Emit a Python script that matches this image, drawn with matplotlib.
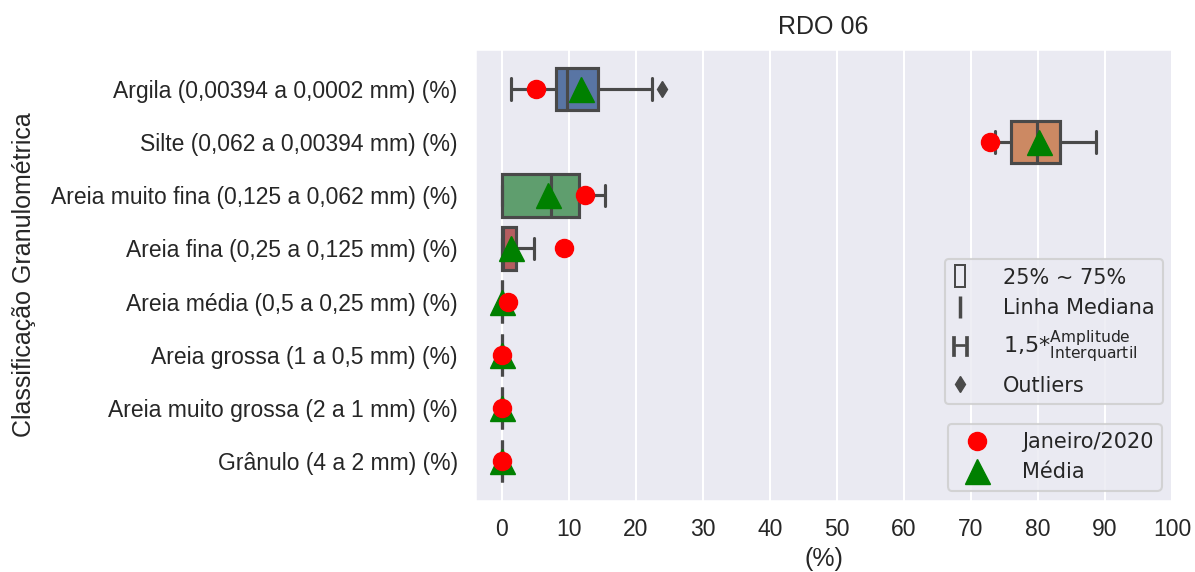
import matplotlib
matplotlib.use('Agg')
import matplotlib.pyplot as plt
from matplotlib.lines import Line2D
import seaborn as sns

# Classes granulométricas (eixo categórico)
categorias = [
    'Argila (0,00394 a 0,0002 mm) (%)',
    'Silte (0,062 a 0,00394 mm) (%)',
    'Areia muito fina (0,125 a 0,062 mm) (%)',
    'Areia fina (0,25 a 0,125 mm) (%)',
    'Areia média (0,5 a 0,25 mm) (%)',
    'Areia grossa (1 a 0,5 mm) (%)',
    'Areia muito grossa (2 a 1 mm) (%)',
    'Grânulo (4 a 2 mm) (%)',
]

# Estatísticas do histórico
lim_inf = [1.3, 73.6, 0.0, 0.0, 0.0, 0.0, 0.0, 0.0]
q1 = [8.1, 76.0, 0.0, 0.0, 0.0, 0.0, 0.0, 0.0]
mediana = [9.7, 79.9, 7.3, 0.2, 0.0, 0.0, 0.0, 0.0]
q3 = [14.3, 83.3, 11.5, 2.1, 0.0, 0.0, 0.0, 0.0]
lim_sup = [22.4, 88.7, 15.4, 4.8, 0.0, 0.0, 0.0, 0.0]
outliers = [[23.9], [], [], [], [], [], [], []]
media = [11.8, 80.2, 6.9, 1.4, 0.1, 0.0, 0.0, 0.0]

# Campanha atual
janeiro = [5.1, 72.8, 12.4, 9.3, 0.9, 0.0, 0.0, 0.0]


def main():
    sns.set_theme(style='darkgrid', context='talk')
    plt.rcParams['font.family'] = ['Liberation Sans', 'DejaVu Sans']

    cinza = '#494949'
    lw = 2.25
    cores = [sns.desaturate(c, 0.75) for c in sns.color_palette('deep', len(categorias))]
    posicoes = list(range(len(categorias)))

    fig = plt.figure(figsize=(11.95, 5.72), dpi=100)
    ax = fig.add_axes([0.3975, 0.1241, 0.5833, 0.7902])

    stats = []
    for i in posicoes:
        stats.append(dict(med=mediana[i], q1=q1[i], q3=q3[i],
                          whislo=lim_inf[i], whishi=lim_sup[i],
                          fliers=outliers[i]))

    bp = ax.bxp(stats, positions=posicoes, widths=0.8, orientation='horizontal',
                patch_artist=True,
                boxprops=dict(edgecolor=cinza, linewidth=lw),
                medianprops=dict(color=cinza, linewidth=lw),
                whiskerprops=dict(color=cinza, linewidth=lw),
                capprops=dict(color=cinza, linewidth=lw),
                flierprops=dict(marker='d', markerfacecolor=cinza,
                                markeredgecolor=cinza, markersize=8))
    for caixa, cor in zip(bp['boxes'], cores):
        caixa.set_facecolor(cor)

    h_media, = ax.plot(media, posicoes, ls='none', marker='^', color='green',
                       markersize=18, zorder=5, label='Média')
    h_jan, = ax.plot(janeiro, posicoes, ls='none', marker='o', color='red',
                     markersize=13, zorder=6, label='Janeiro/2020')

    ax.set_xlim(-4, 100)
    ax.set_ylim(7.75, -0.75)
    ax.set_xticks(range(0, 101, 10))
    ax.set_yticks(posicoes)
    ax.set_yticklabels(categorias)
    ax.yaxis.grid(False)
    ax.set_xlabel('(%)')
    ax.set_ylabel('Classificação Granulométrica', labelpad=11)
    ax.set_title('RDO 06', pad=10.5)

    fonte_leg = {'family': 'DejaVu Sans', 'size': 15}

    # legenda dos elementos do boxplot
    itens = [
        Line2D([], [], ls='none', marker='$\u25af$', color=cinza, markersize=17,
               markeredgewidth=0),
        Line2D([], [], ls='none', marker='|', color=cinza, markersize=16, markeredgewidth=2.5),
        Line2D([], [], ls='none', marker='$\\mathrm{H}$', color=cinza, markersize=15,
               markeredgewidth=0.5),
        Line2D([], [], ls='none', marker='d', color=cinza, markersize=8),
    ]
    rotulos = ['25% ~ 75%', 'Linha Mediana',
               '1,5*$^{\\mathrm{Amplitude}}_{\\mathrm{Interquartil}}$', 'Outliers']
    leg1 = ax.legend(itens, rotulos, loc='lower right', bbox_to_anchor=(0.987, 0.2146),
                     borderaxespad=0, prop=fonte_leg, handlelength=0.7, handletextpad=1.7)
    leg1.get_texts()[2].set_fontsize(16)
    ax.legend(handles=[h_jan, h_media], loc='lower right', prop=fonte_leg,
              handletextpad=1.15)
    ax.add_artist(leg1)

    fig.savefig('out.png', dpi=100)


if __name__ == '__main__':
    main()
